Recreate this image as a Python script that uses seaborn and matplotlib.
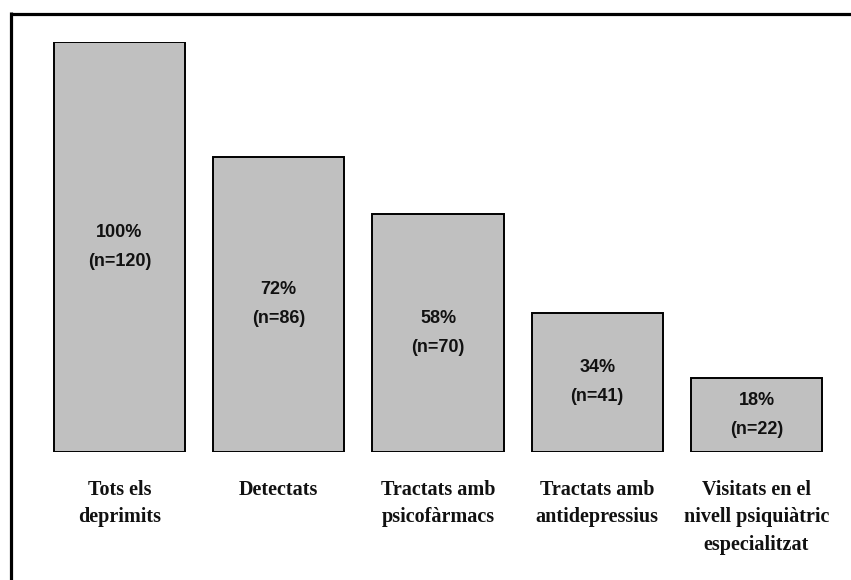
import matplotlib
matplotlib.use("Agg")
import matplotlib.pyplot as plt
from matplotlib.lines import Line2D
import seaborn as sns
import pandas as pd

# Cascade of depressed patients through care levels
categories = [
    "Tots els\ndeprimits",
    "Detectats",
    "Tractats amb\npsicofàrmacs",
    "Tractats amb\nantidepressius",
    "Visitats en el\nnivell psiquiàtric\nespecialitzat",
]
percentages = [100, 72, 58, 34, 18]
counts = [120, 86, 70, 41, 22]

sns.set_theme(style="white")

df = pd.DataFrame({"grup": categories, "pct": percentages})

fig = plt.figure(figsize=(8.51, 5.80), dpi=100)
ax = fig.add_axes([0.0469, 0.2207, 0.9356, 0.7069])

sns.barplot(data=df, x="grup", y="pct", ax=ax, color="#c0c0c0",
            saturation=1, width=0.825, edgecolor="black", linewidth=1.4)

ax.set_xlim(-0.5, len(categories) - 0.5)
ax.set_ylim(0, 100)
for s in ax.spines.values():
    s.set_visible(False)
ax.set_yticks([])
ax.set_xlabel("")
ax.set_ylabel("")
ax.tick_params(axis="x", length=0, pad=20)
ax.set_xticks(range(len(categories)))
ax.set_xticklabels(categories, fontfamily="Liberation Serif", fontweight="bold",
                   fontsize=14.5, linespacing=1.5, color="#111111")

for i, (p, n) in enumerate(zip(percentages, counts)):
    ax.text(i, p / 2, f"{p}%\n(n={n})", ha="center", va="center",
            fontfamily="Liberation Sans", fontweight="bold", fontsize=13,
            linespacing=1.93, color="#111111")

# Frame lines along top and left edges
fig.add_artist(Line2D([10.5 / 851, 1.0], [1 - 13.5 / 580, 1 - 13.5 / 580],
                      transform=fig.transFigure, color="black", linewidth=2.3,
                      solid_capstyle="butt"))
fig.add_artist(Line2D([10.5 / 851, 10.5 / 851], [0.0, 1 - 12 / 580],
                      transform=fig.transFigure, color="black", linewidth=2.3,
                      solid_capstyle="butt"))

fig.savefig("out.png", dpi=100)
